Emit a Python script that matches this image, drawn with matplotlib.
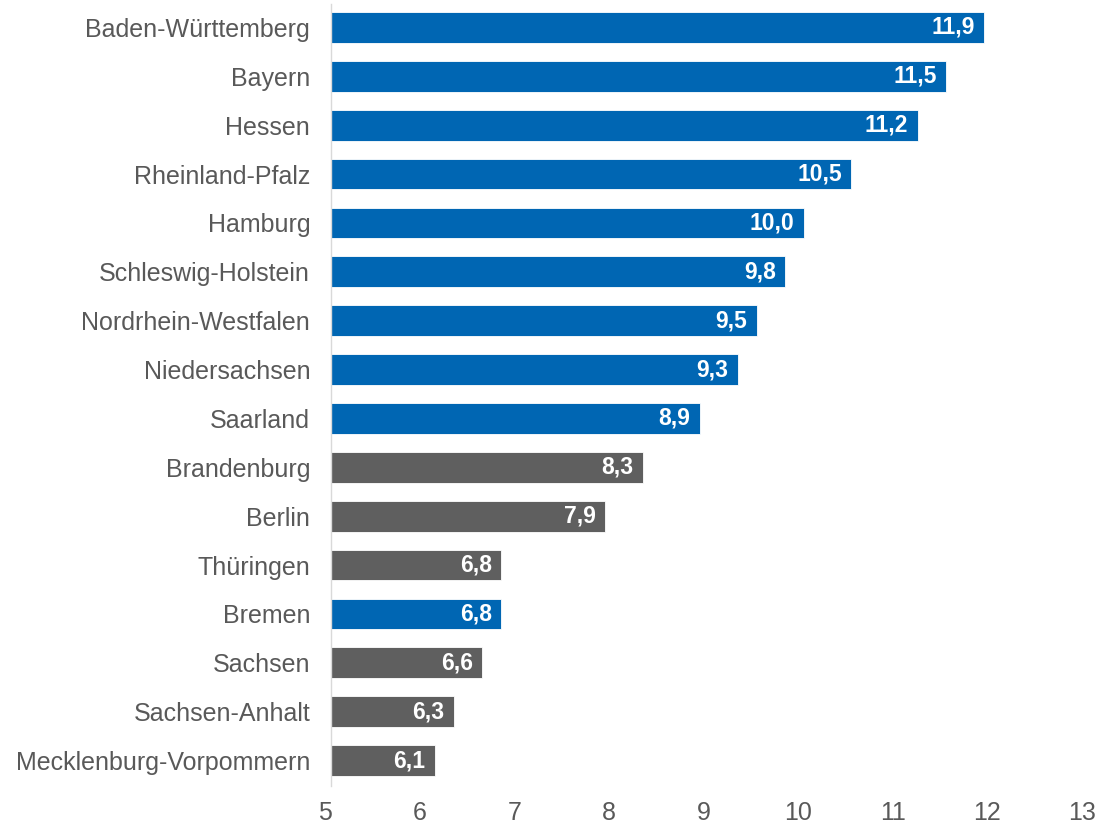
import matplotlib
matplotlib.use('Agg')
import matplotlib.pyplot as plt
import matplotlib.transforms as mtrans

plt.rcParams['font.family'] = ['Liberation Sans', 'DejaVu Sans']

laender = ['Baden-Württemberg', 'Bayern', 'Hessen', 'Rheinland-Pfalz', 'Hamburg',
           'Schleswig-Holstein', 'Nordrhein-Westfalen', 'Niedersachsen', 'Saarland',
           'Brandenburg', 'Berlin', 'Thüringen', 'Bremen', 'Sachsen',
           'Sachsen-Anhalt', 'Mecklenburg-Vorpommern']
werte = [11.9, 11.5, 11.2, 10.5, 10.0, 9.8, 9.5, 9.3, 8.9, 8.3, 7.9, 6.8, 6.8, 6.6, 6.3, 6.1]
ost = [False] * 9 + [True, True, True, False, True, True, True]

blau = '#0066B3'
grau = '#5F5F5F'
textgrau = '#595959'

fig = plt.figure(figsize=(11.01, 8.27), dpi=100)
ax = fig.add_axes([331 / 1101, 41 / 827, 757 / 1101, 782 / 827])

farben = [grau if o else blau for o in ost]
pos = range(len(laender))
ax.barh(pos, [w - 5 for w in werte], left=5, height=0.63, color=farben,
        edgecolor='white', linewidth=0.6)

for i, w in enumerate(werte):
    ax.text(w - 0.1, i, f'{w:.1f}'.replace('.', ','), ha='right', va='center',
            color='white', fontsize=16.5, fontweight='bold')

ax.set_xlim(5, 13)
ax.set_ylim(15.52, -0.48)
ax.set_xticks(range(5, 14))
ax.set_yticks(list(pos))
ax.set_yticklabels(laender)
ax.tick_params(axis='both', length=0, labelsize=18, colors=textgrau)
ax.tick_params(axis='y', pad=15)
ax.tick_params(axis='x', pad=11)

# x-Beschriftungen leicht nach links wie im Original
versatz = mtrans.ScaledTranslation(-6 / 100, 0, fig.dpi_scale_trans)
for lbl in ax.get_xticklabels():
    lbl.set_transform(lbl.get_transform() + versatz)

for s in ['top', 'right', 'bottom']:
    ax.spines[s].set_visible(False)
ax.spines['left'].set_color('#D9D9D9')
ax.spines['left'].set_linewidth(1)

fig.savefig('out.png', dpi=100)
